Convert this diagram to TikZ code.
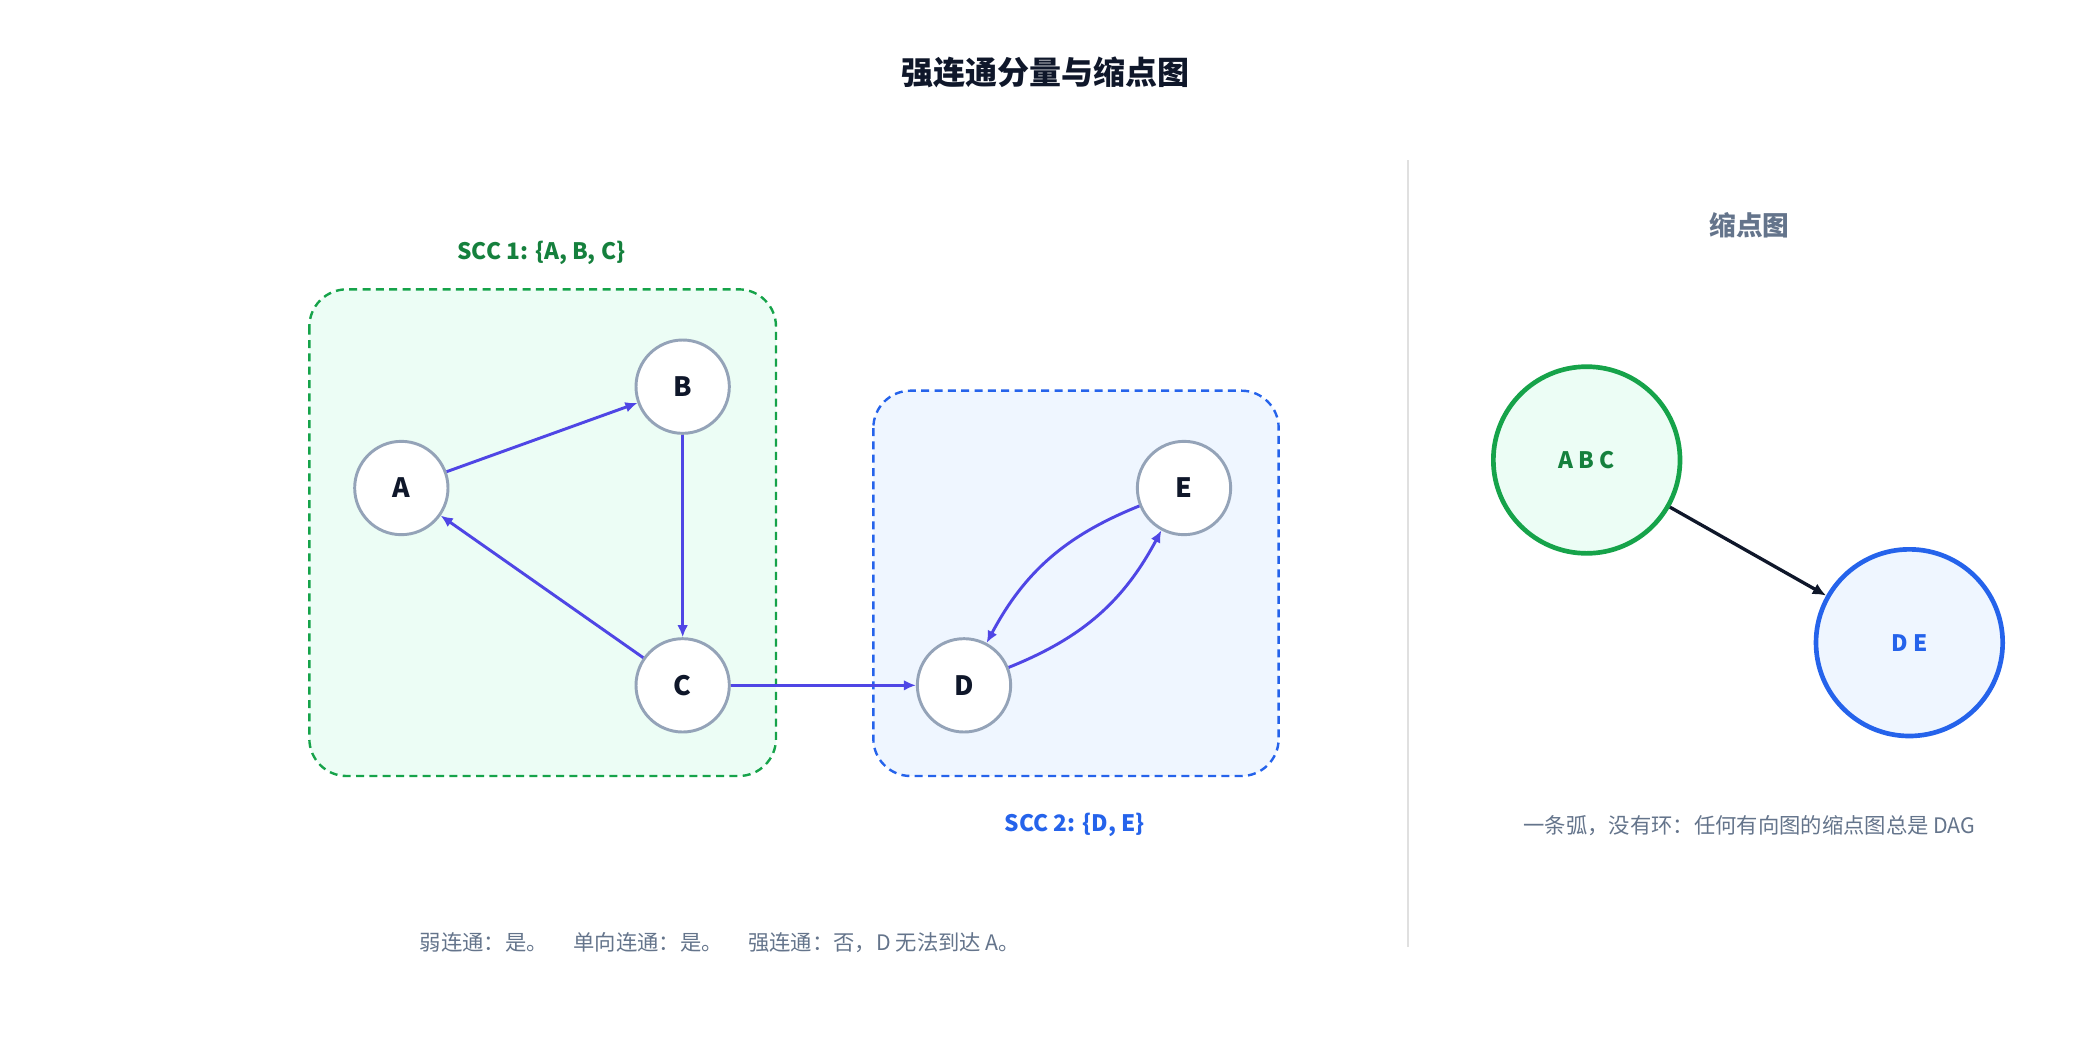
\documentclass[tikz,border=0pt]{standalone}
\usepackage{fontspec}
\setmainfont{Noto Sans CJK SC}
\usetikzlibrary{arrows.meta}
\definecolor{edge}{HTML}{4F46E5}
\definecolor{nstroke}{HTML}{94A3B8}
\definecolor{ink}{HTML}{0F172A}
\definecolor{gtext}{HTML}{64748B}
\definecolor{gstroke}{HTML}{16A34A}
\definecolor{gfill}{HTML}{ECFDF5}
\definecolor{gdark}{HTML}{15803D}
\definecolor{bstroke}{HTML}{2563EB}
\definecolor{bfill}{HTML}{EFF6FF}
\begin{document}
\begin{tikzpicture}[x=1pt,y=-1pt,
  v/.style={circle,draw=nstroke,line width=2.2pt,fill=white,minimum size=70pt,inner sep=0pt,font=\fontsize{20}{20}\selectfont\bfseries,text=ink},
  e/.style={draw=edge,line width=2.2pt,-{Latex[length=9pt,width=8pt]}},
  box/.style={dashed,dash pattern=on 6pt off 4pt,line width=1.8pt,rounded corners=28pt},
  captext/.style={font=\fontsize{16}{16}\selectfont,text=gtext}]
\useasboundingbox (0,0) rectangle (1560,780);
\node[font=\fontsize{24}{24}\selectfont\bfseries,text=ink] (title) at (784,54) {强连通分量与缩点图};
\draw[box,draw=gstroke,fill=gfill] (232,217) rectangle (582,582);
\draw[box,draw=bstroke,fill=bfill] (655,293) rectangle (959,582);
\node[font=\fontsize{17}{17}\selectfont\bfseries,text=gdark] (l1) at (406,190) {SCC 1: \{A, B, C\}};
\node[font=\fontsize{17}{17}\selectfont\bfseries,text=bstroke] (l2) at (806,619) {SCC 2: \{D, E\}};
\node[v] (A) at (301,366) {A};
\node[v] (B) at (512,290) {B};
\node[v] (C) at (512,514) {C};
\node[v] (D) at (723,514) {D};
\node[v] (E) at (888,366) {E};
\draw[e] (A) -- (B);
\draw[e] (B) -- (C);
\draw[e] (C) -- (A);
\draw[e] (C) -- (D);
\draw[e] (D) to[bend right=20] (E);
\draw[e] (E) to[bend right=20] (D);
\node[captext] (bot) at (540,707) {弱连通：是。\hspace{1.2em}单向连通：是。\hspace{1.2em}强连通：否，D 无法到达 A。};
\coordinate (d1) at (1056,120); \coordinate (d2) at (1056,710);
\draw[draw=black!12,line width=1.5pt] (d1) -- (d2);
\node[font=\fontsize{20}{20}\selectfont\bfseries,text=gtext] (ct) at (1312,169) {缩点图};
\node[circle,draw=gstroke,fill=gfill,line width=3.5pt,minimum size=140pt,font=\fontsize{17}{17}\selectfont\bfseries,text=gdark] (abc) at (1190,345) {A B C};
\node[circle,draw=bstroke,fill=bfill,line width=3.5pt,minimum size=140pt,font=\fontsize{17}{17}\selectfont\bfseries,text=bstroke] (de) at (1432,482) {D E};
\draw[draw=ink,line width=2.5pt,-{Latex[length=10pt,width=9pt]}] (abc) -- (de);
\node[captext] (cc) at (1312,619) {一条弧，没有环：任何有向图的缩点图总是 DAG};
\end{tikzpicture}
\end{document}
